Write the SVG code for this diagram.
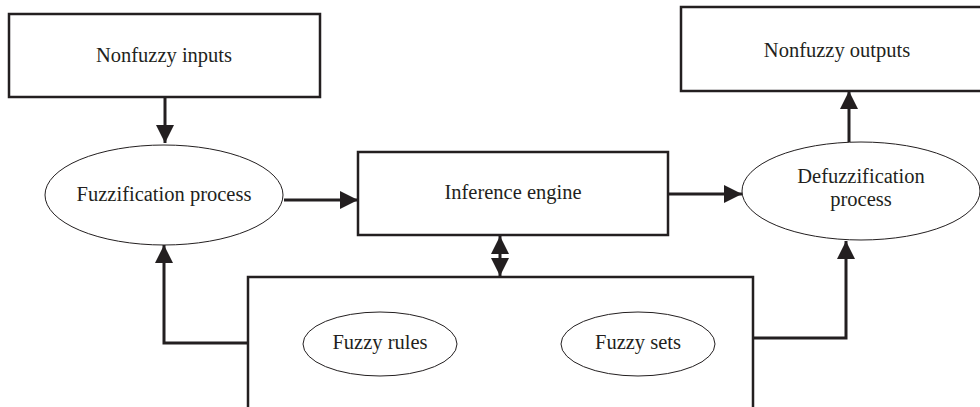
<svg xmlns="http://www.w3.org/2000/svg" width="980" height="407" viewBox="0 0 980 407">
<style>
.box{fill:#fff;stroke:#231f20;stroke-width:2.5}
.ell{fill:#fff;stroke:#231f20;stroke-width:1}
.con{fill:none;stroke:#231f20;stroke-width:3}
text{font-family:"Liberation Serif","Times New Roman",serif;font-size:20.5px;fill:#231f20;text-anchor:middle}
</style>
<defs>
<marker id="ah" markerUnits="userSpaceOnUse" markerWidth="18" markerHeight="18" viewBox="0 0 16 16" refX="16" refY="8" orient="auto">
<path d="M0,0 L16,8 L0,16 Z" fill="#231f20"/>
</marker>
<marker id="as" markerUnits="userSpaceOnUse" markerWidth="18" markerHeight="18" viewBox="0 0 16 16" refX="0" refY="8" orient="auto">
<path d="M16,0 L0,8 L16,16 Z" fill="#231f20"/>
</marker>
</defs>
<rect width="980" height="407" fill="#fff"/>
<g id="connectors">
<path class="con" d="M165,97 V143" marker-end="url(#ah)"/>
<path class="con" d="M284,200 H358" marker-end="url(#ah)"/>
<path class="con" d="M668,194 H742" marker-end="url(#ah)"/>
<path class="con" d="M849,142 V91" marker-end="url(#ah)"/>
<path class="con" d="M500,236 V276" marker-start="url(#as)" marker-end="url(#ah)"/>
<path class="con" d="M248,343 H164 V245" marker-end="url(#ah)"/>
<path class="con" d="M753,338 H846 V241" marker-end="url(#ah)"/>
</g>
<g id="nonfuzzy-inputs">
<rect class="box" x="9" y="14" width="311" height="83"/>
<text x="164" y="62">Nonfuzzy inputs</text>
</g>
<g id="fuzzification">
<ellipse class="ell" cx="164" cy="195" rx="119" ry="50"/>
<text x="164" y="201">Fuzzification process</text>
</g>
<g id="inference-engine">
<rect class="box" x="358" y="152" width="310" height="83"/>
<text x="513" y="199">Inference engine</text>
</g>
<g id="defuzzification">
<ellipse class="ell" cx="861" cy="191" rx="119" ry="49"/>
<text x="861" y="183">Defuzzification</text>
<text x="861" y="206">process</text>
</g>
<g id="nonfuzzy-outputs">
<rect class="box" x="681" y="7" width="310" height="84"/>
<text x="837" y="57">Nonfuzzy outputs</text>
</g>
<g id="knowledge-base">
<path class="box" d="M248,412 V277 H753 V412"/>
</g>
<g id="fuzzy-rules">
<ellipse class="ell" cx="380" cy="344" rx="77" ry="32"/>
<text x="380" y="349">Fuzzy rules</text>
</g>
<g id="fuzzy-sets">
<ellipse class="ell" cx="638" cy="344" rx="77" ry="32"/>
<text x="638" y="349">Fuzzy sets</text>
</g>
</svg>
